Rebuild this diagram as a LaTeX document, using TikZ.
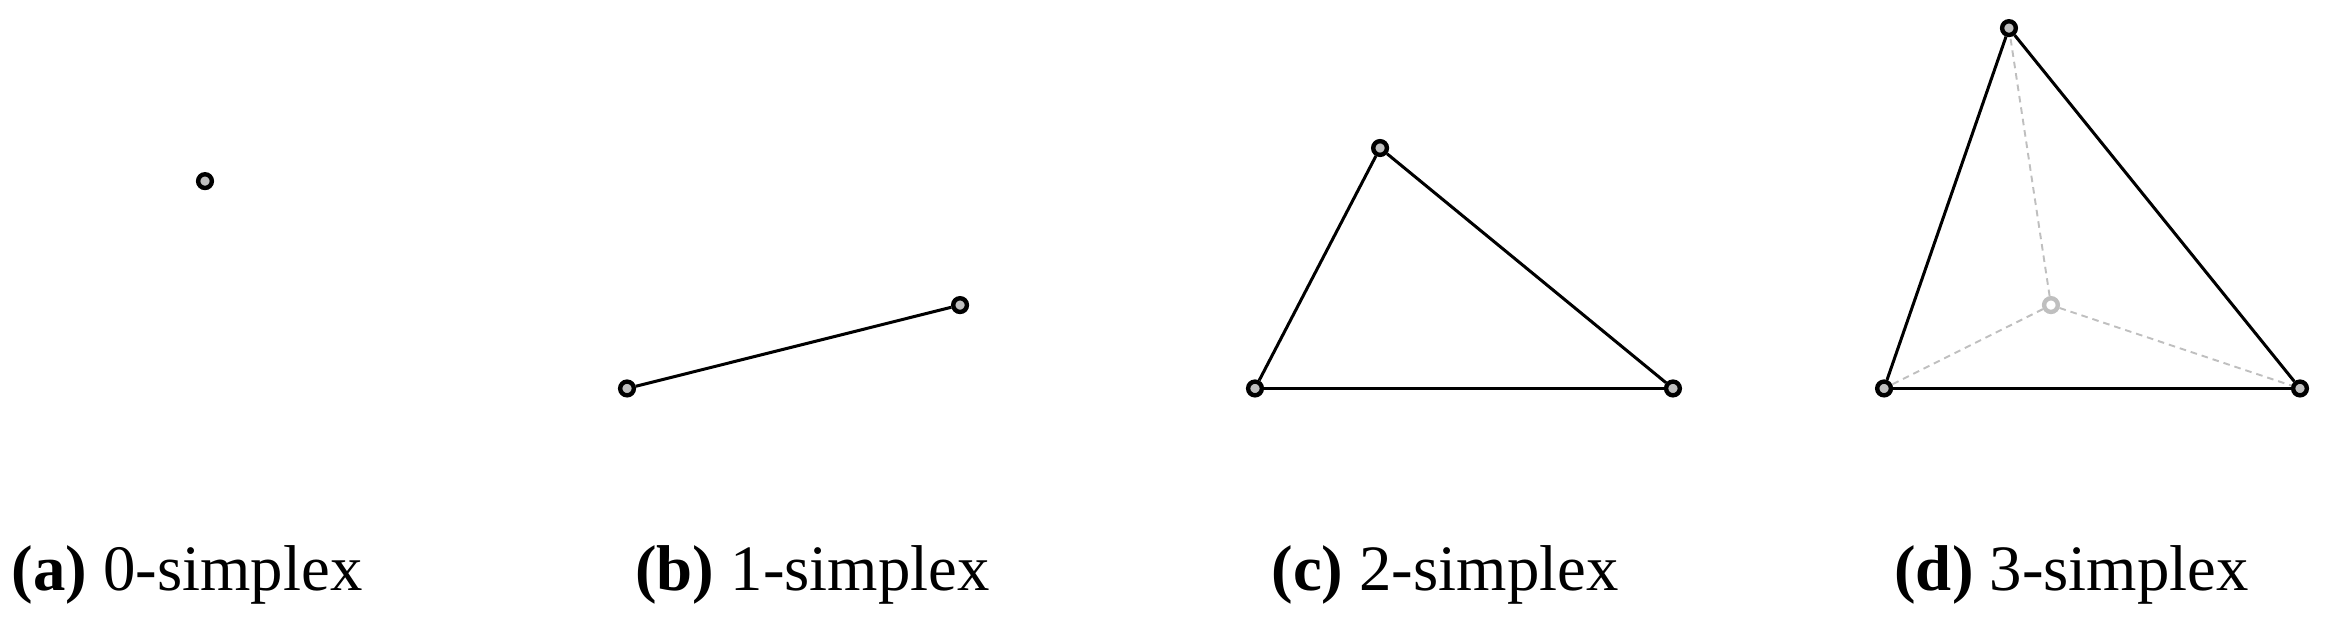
\documentclass[tikz,border=0pt]{standalone}
\usepackage{fontspec}
\setmainfont{Liberation Serif}
\usetikzlibrary{positioning}
\tikzset{
  vtx/.style={circle,draw=black,fill=gray!50,line width=.8pt,inner sep=0pt,minimum size=2.5pt},
  hidvtx/.style={vtx,draw=gray!50,fill=white},
  edge/.style={line width=.55pt},
  hidedge/.style={gray!50,line width=.35pt,dash pattern=on 1.2pt off .9pt},
  lbl/.style={anchor=base,font=\fontsize{11.8}{14}\selectfont}
}

\begin{document}
\begin{tikzpicture}
\useasboundingbox (0,0) rectangle (15,4.01);
% 0-simplex
\node[vtx] (a0) at (1.313,2.850) {};
% 1-simplex
\node[vtx] (b0) at (4.016,1.522) {};
\node[vtx] (b1) at (6.149,2.056) {};
\draw[edge] (b0) -- (b1);
% 2-simplex
\node[vtx] (c0) at (8.038,1.522) {};
\node[vtx] (c1) at (8.839,3.062) {};
\node[vtx] (c2) at (10.715,1.522) {};
\draw[edge] (c0) -- (c1);
\draw[edge] (c1) -- (c2);
\draw[edge] (c2) -- (c0);
% 3-simplex
\node[hidvtx] (d3) at (13.136,2.056) {};
\draw[hidedge] (d3) -- (12.067,1.522);
\draw[hidedge] (d3) -- (12.867,3.830);
\draw[hidedge] (d3) -- (14.731,1.522);
\node[vtx] (d0) at (12.067,1.522) {};
\node[vtx] (d1) at (12.867,3.830) {};
\node[vtx] (d2) at (14.731,1.522) {};
\draw[edge] (d0) -- (d1);
\draw[edge] (d1) -- (d2);
\draw[edge] (d2) -- (d0);
% captions
\node[lbl] (la) at (1.198,0.231) {\textbf{(a)} 0-simplex};
\node[lbl] (lb) at (5.204,0.231) {\textbf{(b)} 1-simplex};
\node[lbl] (lc) at (9.255,0.231) {\textbf{(c)} 2-simplex};
\node[lbl] (ld) at (13.268,0.231) {\textbf{(d)} 3-simplex};
\end{tikzpicture}
\end{document}
